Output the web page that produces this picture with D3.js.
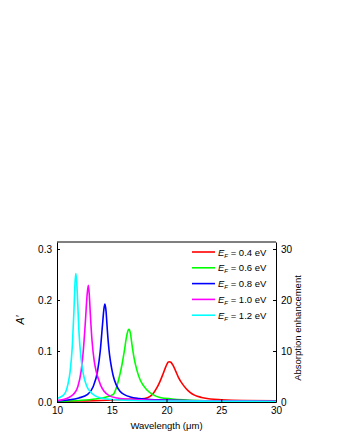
<!DOCTYPE html>
<html>
<head>
<meta charset="utf-8">
<script src="https://d3js.org/d3.v7.min.js"></script>
<style>
  body { margin: 0; background: #fff; }
  text { font-family: "Liberation Sans", Arial, sans-serif; }
</style>
</head>
<body>
<div id="chart"></div>
<script>
// spectra: [wavelength (um), A']
var series04 = [[10,0.001],[12,0.002],[14,0.003],[16,0.005],[17,0.006],[18,0.007],[18.5,0.011],[18.8,0.017],[19.1,0.027],[19.4,0.04],[19.7,0.056],[19.95,0.07],[20.15,0.078],[20.26,0.079],[20.4,0.078],[20.6,0.072],[20.85,0.06],[21.1,0.048],[21.5,0.034],[21.8,0.026],[22.15,0.019],[22.6,0.013],[23.2,0.009],[24,0.006],[25,0.0045],[27,0.003],[30,0.0025]];
var series06 = [[10,0.001],[12,0.003],[13.5,0.006],[14.5,0.01],[15.14,0.015],[15.45,0.03],[15.7,0.05],[15.95,0.075],[16.15,0.1],[16.35,0.128],[16.5,0.141],[16.58,0.1425],[16.7,0.135],[16.85,0.112],[17.05,0.085],[17.3,0.062],[17.58,0.044],[17.9,0.032],[18.19,0.024],[18.8,0.014],[19.4,0.009],[20.5,0.006],[23,0.003],[26,0.002],[30,0.0015]];
var series08 = [[10,0.002],[11,0.004],[12,0.008],[12.8,0.015],[13.3,0.03],[13.7,0.06],[13.95,0.1],[14.15,0.15],[14.3,0.185],[14.38,0.192],[14.48,0.178],[14.6,0.14],[14.75,0.102],[14.88,0.08],[15.0,0.065],[15.15,0.05],[15.4,0.034],[15.75,0.021],[16.2,0.014],[16.7,0.01],[17.5,0.007],[18.5,0.005],[20,0.004],[25,0.002],[30,0.0015]];
var series10 = [[10,0.003],[11,0.008],[11.5,0.015],[11.9,0.03],[12.2,0.06],[12.4,0.1],[12.6,0.16],[12.75,0.21],[12.86,0.229],[12.95,0.21],[13.05,0.17],[13.2,0.12],[13.4,0.08],[13.6,0.058],[13.8,0.044],[14.0,0.032],[14.3,0.021],[14.8,0.012],[15.5,0.008],[17,0.005],[20,0.003],[25,0.002],[30,0.0015]];
var series12 = [[10,0.007],[10.5,0.012],[10.8,0.02],[11.0,0.035],[11.2,0.06],[11.4,0.11],[11.55,0.18],[11.65,0.235],[11.72,0.252],[11.8,0.235],[11.9,0.19],[12.0,0.14],[12.2,0.085],[12.4,0.055],[12.7,0.032],[13.0,0.021],[13.5,0.012],[14,0.008],[15,0.005],[17,0.003],[20,0.002],[25,0.0015],[30,0.001]];

var labels = ["0.4", "0.6", "0.8", "1.0", "1.2"];
var colors = ["#ff0000", "#00ff00", "#0000ff", "#ff00ff", "#00ffff"];
var allSeries = [series04, series06, series08, series10, series12];

var xTicks = [10, 15, 20, 25, 30];
var yTicks = [0.0, 0.1, 0.2, 0.3];
var y2Ticks = [0, 10, 20, 30];

var margin = { top: 242, right: 64, bottom: 38, left: 57 },
    width = 340 - margin.left - margin.right,
    height = 440 - margin.top - margin.bottom;

var svg = d3.select("#chart")
    .append("svg")
    .attr("width", 340)
    .attr("height", 440)
    .append("g")
    .attr("transform", "translate(" + margin.left + "," + margin.top + ")");

var x = d3.scaleLinear().domain([10, 30]).range([0, width]);
var y = d3.scaleLinear().domain([0, 0.3137]).range([height, 0]);
var y2 = d3.scaleLinear().domain([0, 31.37]).range([height, 0]);

// curves
var line = d3.line()
    .x(function (d) { return x(d[0]); })
    .y(function (d) { return y(d[1]); })
    .curve(d3.curveMonotoneX);

allSeries.forEach(function (s, i) {
    svg.append("path")
        .datum(s)
        .attr("fill", "none")
        .attr("stroke", colors[i])
        .attr("stroke-width", 1.6)
        .attr("d", line);
});

// axes
svg.append("g")
    .attr("transform", "translate(0," + height + ")")
    .call(d3.axisBottom(x).tickValues(xTicks).tickFormat(d3.format("d")).tickSizeInner(-3).tickSizeOuter(0).tickPadding(5));

svg.append("g")
    .call(d3.axisLeft(y).tickValues(yTicks).tickFormat(d3.format(".1f")).tickSizeInner(-3).tickSizeOuter(0).tickPadding(5));

svg.append("g")
    .attr("transform", "translate(" + width + ",0)")
    .call(d3.axisRight(y2).tickValues(y2Ticks).tickFormat(d3.format("d")).tickSizeInner(-3).tickSizeOuter(0).tickPadding(5));

svg.selectAll(".tick text")
    .attr("font-size", 10)
    .attr("font-family", "Liberation Sans, Arial, sans-serif")
    .attr("fill", "#000");
svg.selectAll(".domain, .tick line").attr("stroke", "#000");

// top frame line
svg.append("line")
    .attr("x1", 0).attr("x2", width)
    .attr("y1", 0).attr("y2", 0)
    .attr("stroke", "#000");

// axis titles
svg.append("text")
    .attr("x", width / 2)
    .attr("y", height + 27)
    .attr("text-anchor", "middle")
    .attr("font-size", 9.5)
    .text("Wavelength (\u03bcm)");

svg.append("text")
    .attr("transform", "translate(" + (-33) + "," + (height / 2 - 2) + ") rotate(-90)")
    .attr("text-anchor", "middle")
    .attr("font-size", 10.5)
    .attr("font-style", "italic")
    .text("A\u2032");

svg.append("text")
    .attr("transform", "translate(" + (width + 25) + "," + (height / 2 + 6) + ") rotate(-90)")
    .attr("text-anchor", "middle")
    .attr("font-size", 9.5)
    .text("Absorption enhancement");

// legend
var legend = svg.append("g").attr("transform", "translate(135,10)");
labels.forEach(function (lab, i) {
    var g = legend.append("g").attr("transform", "translate(0," + (i * 15.8) + ")");
    g.append("line")
        .attr("x1", 0).attr("x2", 23)
        .attr("y1", 0).attr("y2", 0)
        .attr("stroke", colors[i])
        .attr("stroke-width", 1.6);
    var t = g.append("text")
        .attr("x", 26)
        .attr("y", 3.5)
        .attr("font-size", 9.5);
    t.append("tspan").attr("font-style", "italic").text("E");
    t.append("tspan").attr("font-style", "italic").attr("font-size", 6).attr("dy", 2).text("F");
    t.append("tspan").attr("dy", -2).text(" = " + lab + " eV");
});
</script>
</body>
</html>
